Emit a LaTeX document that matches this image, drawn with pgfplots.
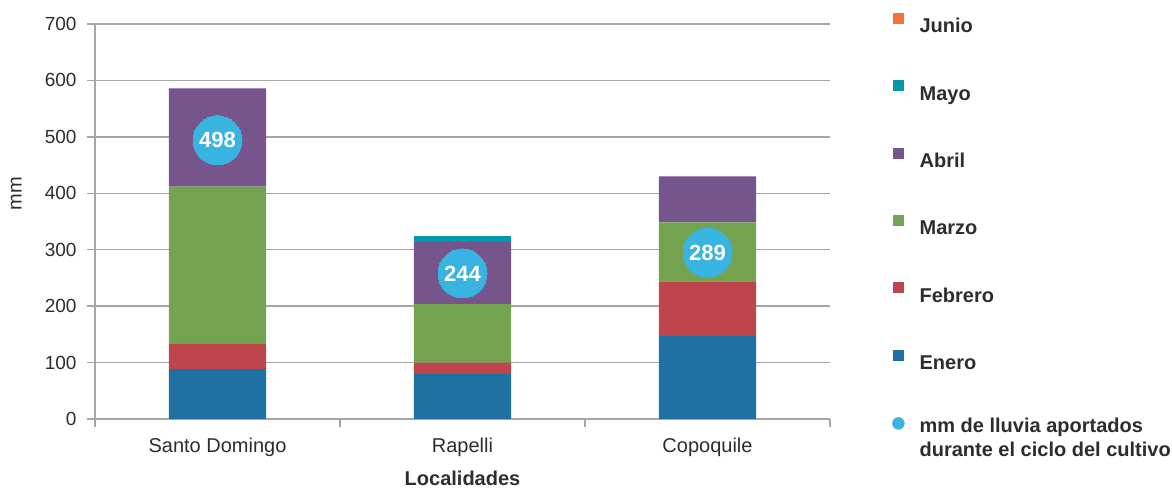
\documentclass[border=0pt]{standalone}
\usepackage{pgfplots}
\pgfplotsset{compat=1.18}
\usepackage{fontspec}
\setmainfont{Liberation Sans}
\definecolor{cEnero}{RGB}{31,112,163}
\definecolor{cFeb}{RGB}{190,69,76}
\definecolor{cMar}{RGB}{116,163,80}
\definecolor{cAbr}{RGB}{117,85,140}
\definecolor{cMay}{RGB}{0,152,170}
\definecolor{cJun}{RGB}{237,118,55}
\definecolor{cCirc}{RGB}{57,179,224}
\definecolor{gridgray}{RGB}{165,165,170}
\definecolor{txt}{RGB}{45,45,45}
\begin{document}
\begin{tikzpicture}
\useasboundingbox (0,0) rectangle (1172bp,488bp);
\begin{axis}[
  at={(95bp,69bp)}, anchor=south west, scale only axis,
  width=735bp, height=395bp,
  xmin=-0.5, xmax=2.5, ymin=0, ymax=700,
  ybar stacked, bar width=0.396,
  legend image code/.code={\fill[#1] (0bp,1bp) rectangle (11bp,12bp);},
  xtick={0,1,2}, xticklabels={Santo Domingo, Rapelli, Copoquile},
  minor xtick={-0.5,0.5,1.5,2.5},
  ytick={0,100,...,700},
  axis x line*=bottom, axis y line*=left,
  axis line style={draw=gridgray, line width=1.5bp},
  ymajorgrids, grid style={draw=gridgray, line width=1.5bp},
  tick align=outside,
  major tick length=8bp, minor tick length=8bp,
  tick style={draw=gridgray, line width=1.5bp},
  major x tick style={draw=none},
  /pgf/number format/assume math mode=true,
  yticklabel style={font=\fontsize{19bp}{22bp}\selectfont, text=txt, anchor=east, xshift=-7bp},
  xticklabel style={font=\fontsize{20bp}{24bp}\selectfont, text=txt, anchor=base, yshift=-25.3bp},
  ylabel={mm},
  ylabel style={at={(axis description cs:-0.107,0.57)}, anchor=center, font=\fontsize{20bp}{24bp}\selectfont, text=txt},
  xlabel={Localidades},
  xlabel style={at={(axis description cs:0.5,-0.1696)}, anchor=base, font=\bfseries\fontsize{20bp}{24bp}\selectfont, text=txt},
  reverse legend,
  legend cell align=left,
  legend style={at={(1,1)}, anchor=north west, xshift=62bp, yshift=11.1bp,
    draw=none, fill=none, inner sep=0pt, row sep=46.2bp,
    font=\bfseries\fontsize{20bp}{24bp}\selectfont, text=txt,
    nodes={inner sep=0pt},
    /tikz/every odd column/.append style={column sep=15bp}},
]
\addlegendimage{legend image code/.code={\fill[cCirc] (5.5bp,5.6bp) circle (6bp);}}
\addlegendentry{\vtop{\hbox{\rule{0pt}{8.9bp}\smash{mm de lluvia aportados}}\hbox{\strut durante el ciclo del cultivo}}}
\addplot[fill=cEnero, draw=none] coordinates {(0,88.5) (1,80) (2,147.5)};
\addlegendentry{\strut Enero}
\addplot[fill=cFeb, draw=none] coordinates {(0,44.5) (1,20) (2,96.5)};
\addlegendentry{\strut Febrero}
\addplot[fill=cMar, draw=none] coordinates {(0,279) (1,103.5) (2,104.5)};
\addlegendentry{\strut Marzo}
\addplot[fill=cAbr, draw=none] coordinates {(0,174) (1,110.5) (2,81.5)};
\addlegendentry{\strut Abril}
\addplot[fill=cMay, draw=none] coordinates {(0,0) (1,10) (2,0)};
\addlegendentry{\strut Mayo}
\addplot[fill=cJun, draw=none] coordinates {(0,0) (1,0) (2,0)};
\addlegendentry{\strut Junio}
\end{axis}
\begin{axis}[
  at={(95bp,69bp)}, anchor=south west, scale only axis,
  width=735bp, height=395bp,
  xmin=-0.5, xmax=2.5, ymin=0, ymax=700,
  hide axis, clip=false,
]
\addplot[color=cCirc, only marks, mark=*, mark size=24.5bp, mark options={fill=cCirc, draw=cCirc, line width=0pt},
  nodes near coords, point meta=explicit symbolic,
  nodes near coords style={anchor=center, text=white, font=\bfseries\fontsize{22bp}{24bp}\selectfont}]
  coordinates {(0,494)[498] (1,258)[244] (2,295)[289]};
\end{axis}
\end{tikzpicture}
\end{document}
